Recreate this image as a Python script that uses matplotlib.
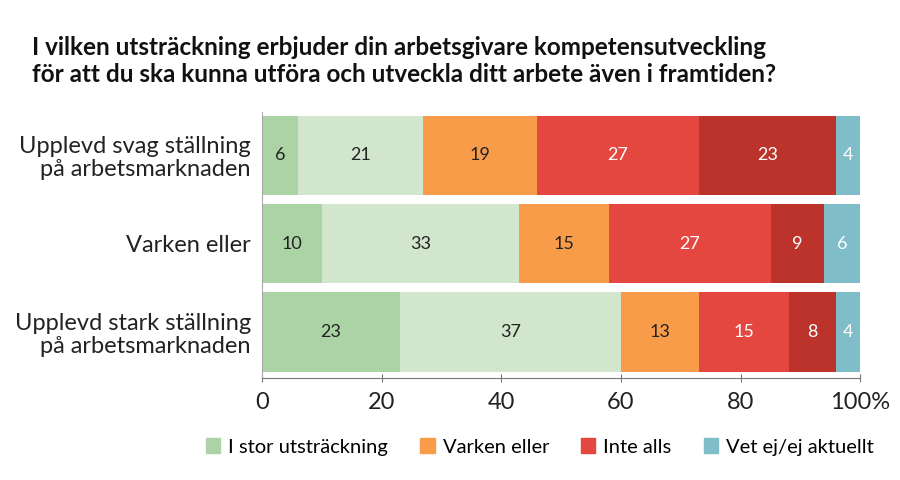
import numpy as np
import matplotlib.pyplot as plt

plt.rcParams['font.family'] = ['Lato', 'DejaVu Sans']

# Data
groups = ["Upplevd svag ställning\npå arbetsmarknaden",
          "Varken eller",
          "Upplevd stark ställning\npå arbetsmarknaden"]
i_stor = [6, 10, 23]
i_viss = [21, 33, 37]
varken = [19, 15, 13]
inte_alls = [27, 27, 15]
i_liten = [23, 9, 8]
vet_ej = [4, 6, 4]

series = [i_stor, i_viss, varken, inte_alls, i_liten, vet_ej]
colors = ["#acd3a5", "#d1e6cc", "#f89c4a", "#e4473f", "#bb332b", "#7fbdc9"]
text_colors = ["#222222", "#222222", "#222222", "white", "white", "white"]

legend_labels = ["I stor utsträckning", "Varken eller", "Inte alls", "Vet ej/ej aktuellt"]
legend_colors = [colors[0], colors[2], colors[3], colors[5]]

fig = plt.figure(figsize=(9, 4.8), dpi=100)
ax = fig.add_axes([0.291, 0.2125, 0.665, 0.554])

y = np.arange(len(groups))
left = np.zeros(len(groups))
for vals, c, tc in zip(series, colors, text_colors):
    vals = np.array(vals)
    ax.barh(y, vals, left=left, height=0.9, color=c, edgecolor="none")
    for yi, v, l in zip(y, vals, left):
        ax.text(l + v / 2, yi, str(v), ha="center", va="center",
                fontsize=13, color=tc)
    left += vals

ax.set_ylim(2.52, -0.49)
ax.set_xlim(0, 100)
ax.set_yticks(y)
ax.set_yticklabels(groups, fontsize=17, color="#222222", linespacing=1.1)
ax.set_xticks([0, 20, 40, 60, 80, 100])
ax.set_xticklabels(["0", "20", "40", "60", "80", "100%"], fontsize=17, color="#222222")
ax.tick_params(axis="y", length=0, pad=8)
ax.tick_params(axis="x", direction="inout", length=6, color="#777777", pad=7)

for s in ["top", "right"]:
    ax.spines[s].set_visible(False)
ax.spines["left"].set_color("#aaaaaa")
ax.spines["bottom"].set_color("#777777")

fig.text(0.035, 0.873, "I vilken utsträckning erbjuder din arbetsgivare kompetensutveckling\n"
         "för att du ska kunna utföra och utveckla ditt arbete även i framtiden?",
         fontsize=17.5, fontweight="bold", va="center", ha="left", color="#111111",
         linespacing=1.25)

handles = [plt.Rectangle((0, 0), 1, 1, color=c) for c in legend_colors]
fig.legend(handles, legend_labels, loc="center", bbox_to_anchor=(0.6, 0.069),
           ncol=4, frameon=False, fontsize=14.5, handlelength=0.7, handleheight=0.8,
           handletextpad=0.4, columnspacing=1.6)

fig.savefig("out.png", dpi=100)
